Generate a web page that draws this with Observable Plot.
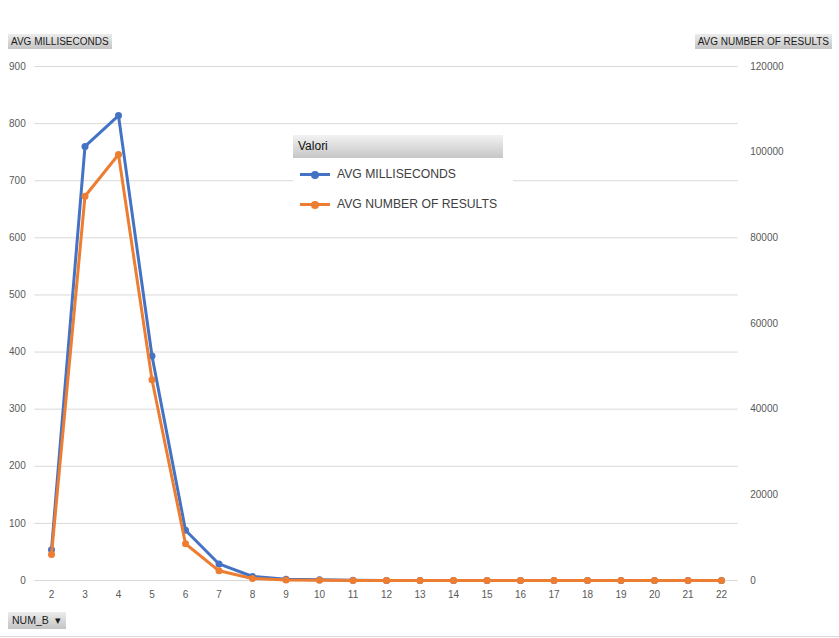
<!DOCTYPE html>
<html>
<head>
<meta charset="utf-8">
<script src="https://cdn.jsdelivr.net/npm/d3@7"></script>
<script src="https://cdn.jsdelivr.net/npm/@observablehq/plot@0.6"></script>
<style>
  html, body { margin: 0; padding: 0; background: #fff; }
  body { font-family: "Liberation Sans", Arial, sans-serif; }
  #wrap { position: relative; width: 839px; height: 638px; overflow: hidden; background: #fff; }
  #wrap svg { position: absolute; left: 0; top: 0; }
  .tag { position: absolute; background: linear-gradient(#ececec, #c4c4c4); color: #1a1a1a;
         font-size: 10px; line-height: 15px; height: 15px; padding: 0 3px; white-space: nowrap; box-sizing: border-box; }
  #legend { position: absolute; left: 293px; top: 135px; width: 220px; }
  #legend .head { background: linear-gradient(#f2f2f2, #c6c6c6); height: 23px; line-height: 23px;
                  font-size: 12px; color: #111; padding-left: 5px; width: 210px; box-sizing: border-box; }
  #legend .body { background: #fff; height: 64px; position: relative; }
  #legend .item { position: absolute; left: 7px; font-size: 12.2px; color: #404040; white-space: nowrap; }
  #legend .sw { display: inline-block; position: relative; width: 30px; height: 3px; vertical-align: middle; margin-right: 7px; }
  #legend .sw i { position: absolute; left: 11px; top: -2.5px; width: 8px; height: 8px; border-radius: 50%; }
  #bottomline { position: absolute; left: 0; top: 636px; width: 839px; height: 1px; background: #d9d9d9; }
</style>
</head>
<body>
<div id="wrap"></div>
<script>
// ---- data ----
const numB = [2, 3, 4, 5, 6, 7, 8, 9, 10, 11, 12, 13, 14, 15, 16, 17, 18, 19, 20, 21, 22];
const avgMilliseconds = [54, 760, 814, 393, 88, 29, 7, 2, 1.5, 0.5, 0, 0, 0, 0, 0, 0, 0, 0, 0, 0, 0];
const avgNumberOfResults = [6070, 89720, 99460, 46860, 8570, 2260, 470, 100, 40, 10, 0, 0, 0, 0, 0, 0, 0, 0, 0, 0, 0];
const leftTicks = [0, 100, 200, 300, 400, 500, 600, 700, 800, 900];
const rightTicks = [0, 20000, 40000, 60000, 80000, 100000, 120000];
const leftMax = 900, rightMax = 120000;
const seriesNames = ["AVG MILLISECONDS", "AVG NUMBER OF RESULTS"];
const colors = ["#4472C4", "#ED7D31"];

// map secondary series onto primary scale
const k = leftMax / rightMax;
const msData = numB.map((b, i) => ({b, v: avgMilliseconds[i]}));
const resData = numB.map((b, i) => ({b, v: avgNumberOfResults[i] * k}));

const chart = Plot.plot({
  width: 839,
  height: 638,
  marginTop: 66,
  marginBottom: 58,
  marginLeft: 34.25,
  marginRight: 101.25,
  style: {fontFamily: "'Liberation Sans', Arial, sans-serif", fontSize: "10px", color: "#595959", background: "transparent"},
  x: {type: "point", domain: numB, padding: 0.5, round: false},
  y: {domain: [0, leftMax]},
  marks: [
    Plot.gridY(leftTicks, {stroke: "#d9d9d9", strokeOpacity: 1}),
    Plot.axisY(leftTicks, {anchor: "left", tickSize: 0, tickPadding: 9, label: null, tickFormat: d => d}),
    Plot.axisY(rightTicks.map(t => t * k), {anchor: "right", tickSize: 0, tickPadding: 12, label: null, textAnchor: "start", tickFormat: d => String(Math.round(d / k))}),
    Plot.axisX({tickSize: 0, tickPadding: 10, label: null}),
    Plot.line(msData, {x: "b", y: "v", stroke: colors[0], strokeWidth: 3}),
    Plot.dot(msData, {x: "b", y: "v", r: 3.5, fill: colors[0]}),
    Plot.line(resData, {x: "b", y: "v", stroke: colors[1], strokeWidth: 3}),
    Plot.dot(resData, {x: "b", y: "v", r: 3.5, fill: colors[1]})
  ]
});

const wrap = document.getElementById("wrap");
wrap.appendChild(chart);

function tag(text, left, top, right) {
  const d = document.createElement("div");
  d.className = "tag";
  d.textContent = text;
  d.style.top = top + "px";
  if (right != null) d.style.right = right + "px"; else d.style.left = left + "px";
  wrap.appendChild(d);
  return d;
}
tag(seriesNames[0], 8, 34);
tag(seriesNames[1], null, 34, 7);
const nb = tag("NUM_B  \u25BE", 8, 612);
nb.style.height = "17px"; nb.style.lineHeight = "17px"; nb.style.fontSize = "10.5px"; nb.style.padding = "0 5px 0 4px"; nb.style.whiteSpace = "pre";

// legend
const lg = document.createElement("div");
lg.id = "legend";
lg.innerHTML = `<div class="head">Valori</div><div class="body"></div>`;
const body = lg.querySelector(".body");
seriesNames.forEach((name, i) => {
  const it = document.createElement("div");
  it.className = "item";
  it.style.top = (9 + i * 30) + "px";
  it.innerHTML = `<span class="sw" style="background:${colors[i]}"><i style="background:${colors[i]}"></i></span>${name}`;
  body.appendChild(it);
});
wrap.appendChild(lg);

const bl = document.createElement("div");
bl.id = "bottomline";
wrap.appendChild(bl);
</script>
</body>
</html>
